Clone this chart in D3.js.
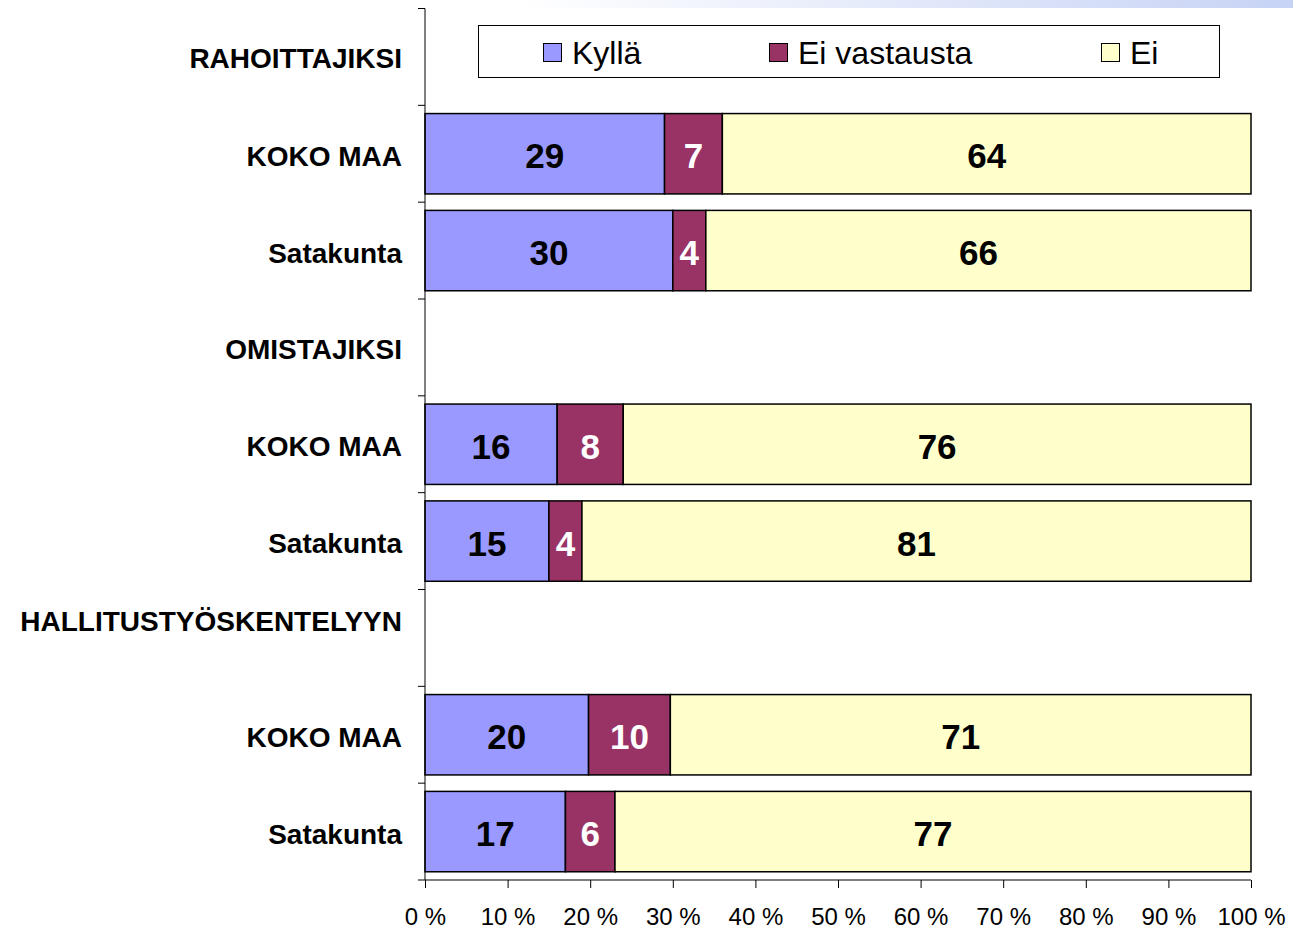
<!DOCTYPE html>
<html><head><meta charset="utf-8">
<script src="https://cdn.jsdelivr.net/npm/d3@7"></script>
<style>body{margin:0;background:#fff}svg{display:block}</style>
</head><body><svg id="c" width="1293" height="931"></svg>
<script>
const categories = ["RAHOITTAJIKSI","KOKO MAA","Satakunta","OMISTAJIKSI","KOKO MAA","Satakunta","HALLITUSTYÖSKENTELYYN","KOKO MAA","Satakunta"];
const isGroup = [true,false,false,true,false,false,true,false,false];
const seriesNames = ["Kyllä","Ei vastausta","Ei"];
const kylla = [null,29,30,null,16,15,null,20,17];
const eiVastausta = [null,7,4,null,8,4,null,10,6];
const ei = [null,64,66,null,76,81,null,71,77];
const xTicks = [0,10,20,30,40,50,60,70,80,90,100];
const colors = ["#9999FF","#993366","#FFFFCC"];
const labelColors = ["#000","#fff","#000"];

const svg = d3.select("#c");
const font = "'Liberation Sans', Arial, sans-serif";

// top-right gradient strip
const defs = svg.append("defs");
const g1 = defs.append("linearGradient").attr("id","tg").attr("x1","0").attr("x2","1");
g1.append("stop").attr("offset","0").attr("stop-color","#fff");
g1.append("stop").attr("offset","1").attr("stop-color","#c7d3f5");
svg.append("rect").attr("x",520).attr("y",0).attr("width",773).attr("height",8).attr("fill","url(#tg)");

const x = d3.scaleLinear().domain([0,100]).range([425,1251]);
const y = d3.scaleBand().domain(d3.range(categories.length)).range([8.5,880]).paddingInner(0.17).paddingOuter(0.085);

const rows = categories.map((c,i)=>({i, vals:[kylla[i],eiVastausta[i],ei[i]]}));

// bars
rows.forEach(r=>{
  if (r.vals[0]==null) return;
  const tot = d3.sum(r.vals);
  let acc = 0;
  r.vals.forEach((v,k)=>{
    const x0 = x(acc/tot*100), x1 = x((acc+v)/tot*100);
    acc += v;
    svg.append("rect").attr("x",x0).attr("y",y(r.i)).attr("width",x1-x0).attr("height",y.bandwidth())
      .attr("fill",colors[k]).attr("stroke","#000").attr("stroke-width",1.5);
    svg.append("text").attr("x",(x0+x1)/2).attr("y",y(r.i)+y.bandwidth()/2+2).attr("dy","0.36em")
      .attr("text-anchor","middle").attr("font-family",font).attr("font-weight","bold").attr("font-size",35)
      .attr("fill",labelColors[k]).text(v);
  });
});

// y axis line + ticks
const yAxisG = svg.append("g").attr("stroke","#000").attr("stroke-width",1);
yAxisG.append("line").attr("x1",425).attr("x2",425).attr("y1",8.5).attr("y2",880);
d3.range(categories.length+1).forEach(i=>{
  const yy = 8.5 + i*(871.5/categories.length);
  yAxisG.append("line").attr("x1",418).attr("x2",425).attr("y1",yy).attr("y2",yy);
});

// category labels
categories.forEach((c,i)=>{
  const cy = y(i)+y.bandwidth()/2 + (i===6 ? -17 : (i===0 ? 1 : 2));
  svg.append("text").attr("x",402).attr("y",cy).attr("dy","0.36em").attr("text-anchor","end")
    .attr("font-family",font).attr("font-weight","bold").attr("font-size",28).attr("fill","#000").text(c);
});

// x axis
const xAxis = d3.axisBottom(x).tickValues(xTicks).tickSize(8).tickFormat(d=>d+" %");
const xg = svg.append("g").attr("transform","translate(0,880)").call(xAxis);
xg.select(".domain").attr("d","M425,0H1251").attr("stroke","#000");
xg.selectAll(".tick line").attr("stroke","#000");
xg.selectAll(".tick text").attr("font-family",font).attr("font-size",24).attr("fill","#000").attr("dy","0").attr("y",45);

// legend
svg.append("rect").attr("x",478.5).attr("y",25.5).attr("width",741).attr("height",52).attr("fill","#fff").attr("stroke","#000").attr("stroke-width",1);
const legX = [543,769,1101];
seriesNames.forEach((s,k)=>{
  svg.append("rect").attr("x",legX[k]+0.5).attr("y",43.5).attr("width",18).attr("height",18).attr("fill",colors[k]).attr("stroke","#000").attr("stroke-width",1);
  svg.append("text").attr("x",legX[k]+29).attr("y",52).attr("dy","0.36em").attr("font-family",font).attr("font-size",32).attr("fill","#000").text(s);
});
</script></body></html>
